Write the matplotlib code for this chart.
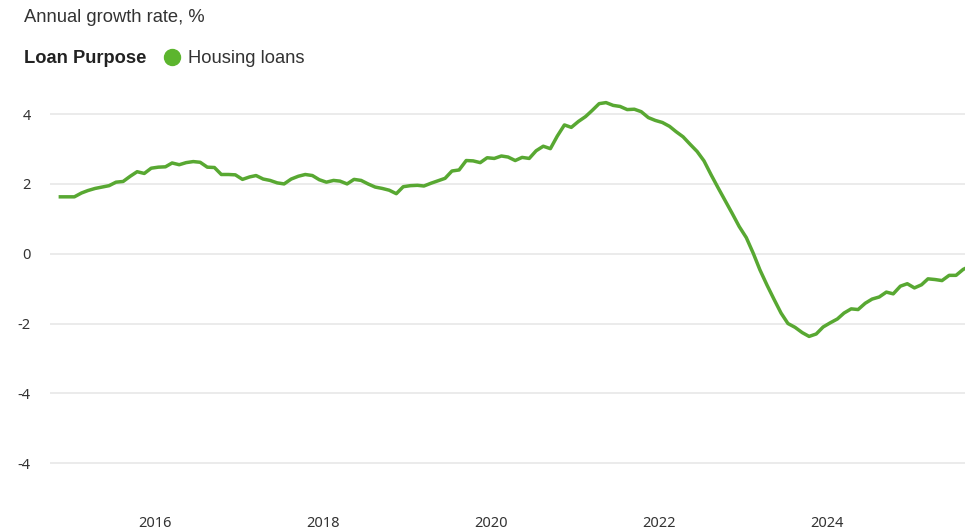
import matplotlib
matplotlib.use('Agg')
import matplotlib.pyplot as plt
import matplotlib.dates as mdates
from matplotlib.lines import Line2D
import pandas as pd

# Housing loans, annual growth rate (%), monthly from Nov 2014 (mid-month points)
start_month = '2014-11-01'
housing_loans = [
    1.63, 1.63, 1.63, 1.74, 1.81, 1.87, 1.91, 1.95, 2.05, 2.07,
    2.22, 2.35, 2.30, 2.45, 2.48, 2.49, 2.60, 2.55, 2.61, 2.64,
    2.62, 2.48, 2.47, 2.27, 2.27, 2.26, 2.13, 2.20, 2.24, 2.14,
    2.10, 2.03, 2.00, 2.14, 2.22, 2.27, 2.24, 2.12, 2.05, 2.10,
    2.08, 2.00, 2.13, 2.10, 2.00, 1.91, 1.87, 1.82, 1.72, 1.92,
    1.95, 1.96, 1.94, 2.02, 2.09, 2.16, 2.37, 2.40, 2.67, 2.66,
    2.61, 2.75, 2.73, 2.80, 2.77, 2.67, 2.76, 2.73, 2.95, 3.08,
    3.01, 3.37, 3.69, 3.62, 3.79, 3.93, 4.10, 4.30, 4.33, 4.25,
    4.22, 4.13, 4.14, 4.07, 3.90, 3.82, 3.76, 3.65, 3.50, 3.35,
    3.14, 2.93, 2.66, 2.26, 1.88, 1.52, 1.15, 0.78, 0.46, 0.00,
    -0.46, -0.90, -1.30, -1.70, -2.00, -2.11, -2.26, -2.37, -2.30, -2.10,
    -1.98, -1.87, -1.70, -1.58, -1.60, -1.42, -1.30, -1.24, -1.10, -1.15,
    -0.93, -0.86, -0.98, -0.89, -0.72, -0.74, -0.77, -0.62, -0.62, -0.45,
    -0.35,
]
dates = pd.date_range(start_month, periods=len(housing_loans), freq='MS') + pd.Timedelta(days=14)

y_ticks = [4, 2, 0, -2, -4, -6]
y_tick_labels = ['4', '2', '0', '-2', '-4', '-4']
x_tick_years = [2016, 2018, 2020, 2022, 2024]

text_color = '#333333'
line_color = '#58a832'

fig = plt.figure(figsize=(9.65, 5.32), dpi=100)
ax = fig.add_axes([50 / 965, 1 - 498 / 532, 1 - 50 / 965, (498 - 86.2) / 532])

ax.plot(dates, housing_loans, color=line_color, lw=2.5, solid_joinstyle='round',
        zorder=3)

ax.set_ylim(-7, 4.8)
ax.set_yticks(y_ticks)
ax.set_yticklabels(y_tick_labels)
ax.set_xlim(pd.Timestamp('2014-10-01'), pd.Timestamp('2025-08-23'))
ax.set_xticks([pd.Timestamp(f'{y}-01-01') for y in x_tick_years])
ax.xaxis.set_major_formatter(mdates.DateFormatter('%Y'))

ax.grid(axis='y', color='#e8e8e8', lw=1.2)
ax.set_axisbelow(True)
for s in ax.spines.values():
    s.set_visible(False)
ax.tick_params(axis='both', length=0, colors=text_color, labelsize=10.5)
ax.tick_params(axis='y', pad=14)
ax.tick_params(axis='x', pad=13)
for lab in ax.get_xticklabels() + ax.get_yticklabels():
    lab.set_family('Noto Sans')

# Header texts
fig.text(24 / 965, 1 - 22 / 532, 'Annual growth rate, %', family='Liberation Sans',
         fontsize=13.2, color=text_color, va='baseline')
fig.text(24 / 965, 1 - 63 / 532, 'Loan Purpose', family='Liberation Sans',
         fontsize=13.2, fontweight='bold', color='#222222', va='baseline')
fig.add_artist(Line2D([172 / 965], [1 - 57 / 532], marker='o', markersize=11.5,
                      color='#5cb52e', transform=fig.transFigure))
fig.text(188 / 965, 1 - 63 / 532, 'Housing loans', family='Liberation Sans',
         fontsize=13.2, color=text_color, va='baseline')

fig.savefig('out.png', dpi=100)
plt.close(fig)
